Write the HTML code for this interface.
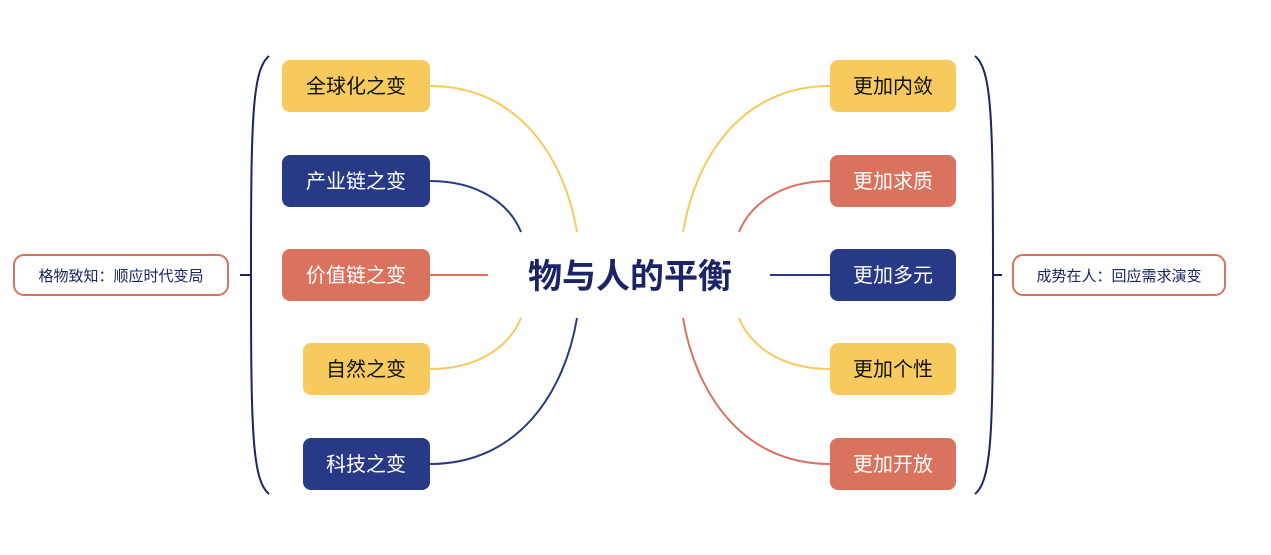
<!DOCTYPE html>
<html><head><meta charset="utf-8"><style>
body{margin:0;background:#fff;}
svg text{font-family:"Liberation Sans","Noto Sans CJK SC",sans-serif;}
</style></head><body>
<svg width="1271" height="550" viewBox="0 0 1271 550" xmlns="http://www.w3.org/2000/svg">
<g fill="none" stroke-width="2">
<path d="M430,86 C520,86 565,160 577,232" stroke="#F7CA5E"/>
<path d="M430,181 C480,181 510,205 521,232" stroke="#283A85"/>
<path d="M430,275 L488,275" stroke="#D9735E"/>
<path d="M430,369 C480,369 510,345 521,318" stroke="#F7CA5E"/>
<path d="M430,464 C520,464 565,390 577,318" stroke="#283A85"/>
<path d="M830,86 C740,86 695,160 683,232" stroke="#F7CA5E"/>
<path d="M830,181 C780,181 750,205 739,232" stroke="#D9735E"/>
<path d="M770,275 L830,275" stroke="#283A85"/>
<path d="M830,369 C780,369 750,345 739,318" stroke="#F7CA5E"/>
<path d="M830,464 C740,464 695,390 683,318" stroke="#D9735E"/>
<path d="M269,56 C252,70 251,120 251,275 C251,430 252,480 269,494" stroke="#1a2466"/>
<path d="M240,275 L251,275" stroke="#1a2466"/>
<path d="M975,56 C992,70 993,120 993,275 C993,430 992,480 975,494" stroke="#1a2466"/>
<path d="M993,275 L1002,275" stroke="#1a2466"/>
</g>
<rect x="14" y="255" width="214" height="40" rx="10" fill="#fff" stroke="#D9735E" stroke-width="2"/>
<text x="121" y="281" font-size="15" fill="#1a2466" text-anchor="middle">格物致知：顺应时代变局</text>
<rect x="1013" y="255" width="212" height="40" rx="10" fill="#fff" stroke="#D9735E" stroke-width="2"/>
<text x="1119" y="281" font-size="15" fill="#1a2466" text-anchor="middle">成势在人：回应需求演变</text>
<g font-size="20" text-anchor="middle">
<rect x="282" y="60" width="148" height="52" rx="8" fill="#F7CA5E"/><text x="356" y="93" fill="#111">全球化之变</text>
<rect x="282" y="155" width="148" height="52" rx="8" fill="#283A85"/><text x="356" y="188" fill="#fff">产业链之变</text>
<rect x="282" y="249" width="148" height="52" rx="8" fill="#D9735E"/><text x="356" y="282" fill="#fff">价值链之变</text>
<rect x="303" y="343" width="127" height="52" rx="8" fill="#F7CA5E"/><text x="366" y="376" fill="#111">自然之变</text>
<rect x="303" y="438" width="127" height="52" rx="8" fill="#283A85"/><text x="366" y="471" fill="#fff">科技之变</text>
<rect x="830" y="60" width="126" height="52" rx="8" fill="#F7CA5E"/><text x="893" y="93" fill="#111">更加内敛</text>
<rect x="830" y="155" width="126" height="52" rx="8" fill="#D9735E"/><text x="893" y="188" fill="#fff">更加求质</text>
<rect x="830" y="249" width="126" height="52" rx="8" fill="#283A85"/><text x="893" y="282" fill="#fff">更加多元</text>
<rect x="830" y="343" width="126" height="52" rx="8" fill="#F7CA5E"/><text x="893" y="376" fill="#111">更加个性</text>
<rect x="830" y="438" width="126" height="52" rx="8" fill="#D9735E"/><text x="893" y="471" fill="#fff">更加开放</text>
</g>
<text x="630" y="288" font-size="34" font-weight="bold" fill="#1a2466" text-anchor="middle">物与人的平衡</text>
</svg>
</body></html>
